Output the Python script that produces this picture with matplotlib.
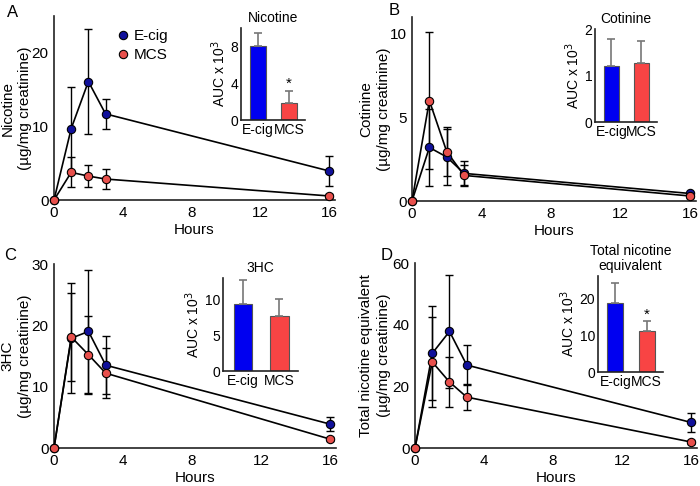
import matplotlib
matplotlib.use("Agg")
import matplotlib.pyplot as plt

plt.rcParams['font.family'] = ['Liberation Sans', 'DejaVu Sans']

hours = [0, 1, 2, 3, 16]

nic_ecig = [0, 9.7, 16.1, 11.7, 3.95]
nic_ecig_err = [0, 5.7, 7.2, 2.0, 2.0]
nic_mcs = [0, 3.75, 3.25, 2.85, 0.55]
nic_mcs_err = [0, 2.05, 1.5, 1.3, 0.3]

cot_ecig = [0, 3.2, 2.63, 1.65, 0.45]
cot_ecig_err = [0, 2.3, 1.7, 0.75, 0.1]
cot_mcs = [0, 6.0, 2.95, 1.53, 0.3]
cot_mcs_err = [0, 4.1, 1.45, 0.6, 0.1]

hc_ecig = [0, 17.9, 19.0, 13.5, 3.9]
hc_ecig_err = [0, 9.0, 10.0, 4.7, 1.1]
hc_mcs = [0, 18.1, 15.2, 12.2, 1.45]
hc_mcs_err = [0, 7.2, 6.4, 4.1, 0.3]

tne_ecig = [0, 30.7, 37.8, 26.9, 8.3]
tne_ecig_err = [0, 15.2, 18.2, 6.6, 3.1]
tne_mcs = [0, 27.9, 21.4, 16.5, 1.95]
tne_mcs_err = [0, 14.6, 8.2, 4.3, 0.5]

groups = ['E-cig', 'MCS']
auc_nic = [8.0, 1.8]
auc_nic_err = [1.5, 1.35]
auc_cot = [1.2, 1.27]
auc_cot_err = [0.58, 0.48]
auc_hc = [9.4, 7.67]
auc_hc_err = [3.3, 2.45]
auc_tne = [18.8, 11.0]
auc_tne_err = [5.4, 2.7]

W, H = 700, 486
fig = plt.figure(figsize=(7, 4.86), dpi=100)

def px_axes(x0, y0, x1, y1):
    # pixel box (top-left origin) -> figure axes
    return fig.add_axes([x0 / W, 1 - y1 / H, (x1 - x0) / W, (y1 - y0) / H])

blue_m = '#10109a'
red_m = '#e8504c'
blue_b = '#0000f0'
red_b = '#f84444'

def main_panel(box, e, ee, m, me, ylim, yticks, ylabel, letter, lpos, ylab_x):
    ax = px_axes(*box)
    x0, y0, x1, y1 = box
    for y, err, c in [(e, ee, blue_m), (m, me, red_m)]:
        ax.errorbar(hours, y, yerr=err, fmt='none', ecolor='black', elinewidth=1,
                    capsize=3, capthick=1, clip_on=False, zorder=2)
        ax.plot(hours, y, '-', color='black', lw=1.2, zorder=3, clip_on=False)
        ax.plot(hours, y, 'o', color=c, mec='black', mew=0.8, ms=6, zorder=4, clip_on=False)
    ax.set_xlim(0, 16.35)
    ax.set_ylim(*ylim)
    ax.set_xticks([0, 4, 8, 12, 16])
    ax.set_yticks(yticks)
    ax.spines['top'].set_visible(False)
    ax.spines['right'].set_visible(False)
    for s in ['left', 'bottom']:
        ax.spines[s].set_linewidth(1.2)
        ax.spines[s].set_color('#222222')
    ax.tick_params(length=0, labelsize=11, pad=4)
    ax.set_xlabel('Hours', fontsize=11, va='center')
    ax.xaxis.set_label_coords(0.5, -30 / (y1 - y0))
    ax.set_ylabel(ylabel, fontsize=11, linespacing=1.3, va='center')
    ax.yaxis.set_label_coords((ylab_x - x0) / (x1 - x0), 0.5)
    fig.text(lpos[0] / W, 1 - lpos[1] / H, letter, fontsize=12, ha='left', va='top')
    return ax

def inset(box, vals, errs, ylim, yticks, title, star=False):
    ax = px_axes(*box)
    ax.bar([0, 1], vals, width=0.52, color=[blue_b, red_b], edgecolor='#555555', lw=0.8)
    ax.errorbar([0, 1], vals, yerr=[[0, 0], errs], fmt='none', ecolor='#777777',
                elinewidth=1.2, capsize=3, capthick=1.2)
    ax.set_xlim(-0.55, 1.52)
    ax.set_ylim(*ylim)
    ax.set_yticks(yticks)
    ax.set_xticks([0, 1])
    ax.set_xticklabels(groups)
    ax.spines['top'].set_visible(False)
    ax.spines['right'].set_visible(False)
    for s in ['left', 'bottom']:
        ax.spines[s].set_linewidth(1.2)
        ax.spines[s].set_color('#222222')
    ax.tick_params(length=0, labelsize=10, pad=2)
    ax.set_ylabel('AUC x 10$^3$', fontsize=10, labelpad=2)
    ax.set_title(title, fontsize=10, pad=4, linespacing=1.1)
    if star:
        ax.text(1, vals[1] + errs[1], '*', ha='center', va='bottom', fontsize=11)
    return ax

axA = main_panel((54, 16, 335, 200), nic_ecig, nic_ecig_err, nic_mcs, nic_mcs_err,
                 (0, 25), [0, 10, 20], 'Nicotine\n(\u00b5g/mg creatinine)', 'A', (7, 5), 16.5)
axB = main_panel((412, 17, 696, 201), cot_ecig, cot_ecig_err, cot_mcs, cot_mcs_err,
                 (0, 11), [0, 5, 10], 'Cotinine\n(\u00b5g/mg creatinine)', 'B', (389, 3), 375)
axC = main_panel((54, 264, 336, 448), hc_ecig, hc_ecig_err, hc_mcs, hc_mcs_err,
                 (0, 30), [0, 10, 20, 30], '3HC\n(\u00b5g/mg creatinine)', 'C', (4, 248), 16.5)
axD = main_panel((415, 263, 697, 448), tne_ecig, tne_ecig_err, tne_mcs, tne_mcs_err,
                 (0, 60), [0, 20, 40, 60], 'Total nicotine equivalent\n(\u00b5g/mg creatinine)', 'D', (381, 248), 375)

hA = axA.plot([], [], 'o', color=blue_m, mec='black', mew=0.8, ms=6)[0]
hB = axA.plot([], [], 'o', color=red_m, mec='black', mew=0.8, ms=6)[0]
axA.legend([hA, hB], groups, loc='upper left', bbox_to_anchor=(0.17, 0.995), frameon=False,
           fontsize=11, handletextpad=0.1, handlelength=1.2, labelspacing=0.35, borderpad=0.3)

inset((241, 28, 305, 120), auc_nic, auc_nic_err, (0, 10), [0, 4, 8], 'Nicotine', star=True)
inset((595, 29, 657, 122), auc_cot, auc_cot_err, (0, 2), [0, 1, 2], 'Cotinine')
inset((223, 278, 298, 371), auc_hc, auc_hc_err, (0, 13), [0, 5, 10], '3HC')
inset((598, 276, 663, 372), auc_tne, auc_tne_err, (0, 26), [0, 10, 20], 'Total nicotine\nequivalent', star=True)

fig.savefig('out.png', dpi=100)
